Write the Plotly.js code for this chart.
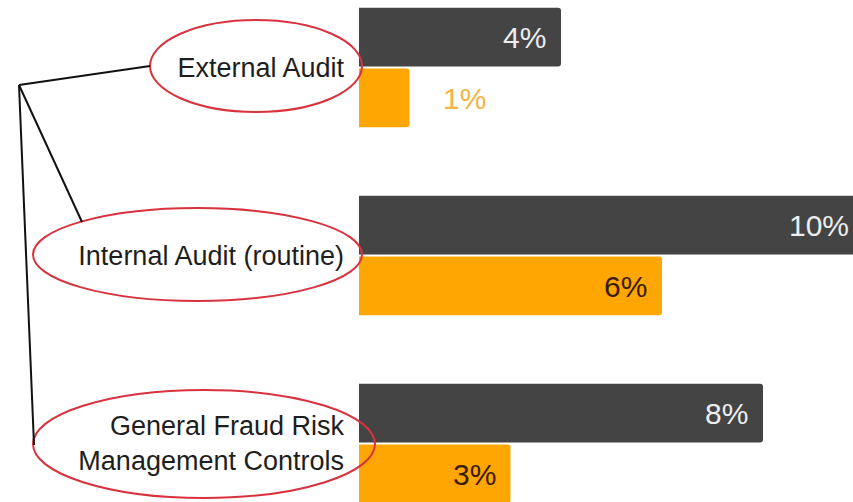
<!DOCTYPE html>
<html><head><meta charset="utf-8">
<script src="https://cdn.plot.ly/plotly-3.0.1.min.js"></script>
<style>html,body{margin:0;padding:0;overflow:hidden;background:#fff;width:853px;height:502px}#chart{width:880px;height:520px}</style>
</head><body><div id="chart"></div><script>
// ---- data ----
const categories = ["External Audit", "Internal Audit (routine)", "General Fraud Risk<br>Management Controls"];
const seriesDark = [4, 10, 8];
const seriesOrange = [1, 6, 3];
const valueSuffix = "%";

// ---- layout constants (styling) ----
const W = 880, H = 520, L = 359;
const PXPER = 50.5, ROW = 188, FIRST = 67.5;
const HALF = 30.5;
const FONT = "Liberation Sans, Arial, Helvetica, sans-serif";
const DARK = "#444444", ORANGE = "#FFA602";

const px = x => (x - L) / (W - L);
const py = y => 1 - y / H;

const traces = [
  {type: "bar", orientation: "h", y: categories, x: seriesDark, name: "A",
   marker: {color: DARK}, hoverinfo: "skip", showlegend: false},
  {type: "bar", orientation: "h", y: categories, x: seriesOrange, name: "B",
   marker: {color: ORANGE}, hoverinfo: "skip", showlegend: false}
];

const annotations = [];
categories.forEach((c, i) => {
  annotations.push({x: seriesDark[i], y: c, xref: "x", yref: "y", text: seriesDark[i] + valueSuffix,
    showarrow: false, xanchor: "right", yanchor: "middle", xshift: -13, yshift: HALF,
    font: {family: FONT, size: 30, color: "#ededed"}});
  const v = seriesOrange[i];
  const outside = v < 2;
  annotations.push({x: v, y: c, xref: "x", yref: "y", text: v + valueSuffix,
    showarrow: false, xanchor: outside ? "left" : "right", yanchor: "middle",
    xshift: outside ? 31 : -13, yshift: -HALF,
    font: {family: FONT, size: 30, color: outside ? "#F6B443" : "#3a1c00"}});
});

const lineStyle = {color: "#111111", width: 2};
const redStyle = {color: "#d8323e", width: 2};
const shapes = [
  {type: "circle", xref: "paper", yref: "paper", x0: px(150), x1: px(362), y0: py(112), y1: py(20), line: redStyle, layer: "above"},
  {type: "circle", xref: "paper", yref: "paper", x0: px(33), x1: px(362), y0: py(301), y1: py(208), line: redStyle, layer: "above"},
  {type: "circle", xref: "paper", yref: "paper", x0: px(33), x1: px(375), y0: py(498), y1: py(390), line: redStyle, layer: "above"},
  {type: "line", xref: "paper", yref: "paper", x0: px(19), y0: py(85), x1: px(150), y1: py(66), line: lineStyle},
  {type: "line", xref: "paper", yref: "paper", x0: px(19), y0: py(85), x1: px(82), y1: py(222), line: lineStyle},
  {type: "line", xref: "paper", yref: "paper", x0: px(19), y0: py(85), x1: px(34), y1: py(445), line: lineStyle}
];

const layout = {
  width: W, height: H,
  margin: {l: L, r: 0, t: 0, b: 0, pad: 0},
  paper_bgcolor: "#ffffff", plot_bgcolor: "#ffffff",
  barmode: "group", bargap: 0.356, bargroupgap: 0.03, barcornerradius: 3,
  showlegend: false,
  xaxis: {range: [0, (W - L) / PXPER], showgrid: false, zeroline: false, showline: false,
          showticklabels: false, ticks: "", fixedrange: true},
  yaxis: {type: "category", range: [(H - FIRST) / ROW, -FIRST / ROW], showgrid: false, zeroline: false,
          showline: false, ticks: "", ticklabelstandoff: 14, automargin: false,
          tickfont: {family: FONT, size: 27, color: "#1e1e1e"}, fixedrange: true},
  annotations: annotations,
  shapes: shapes,
  font: {family: FONT}
};

Plotly.newPlot("chart", traces, layout, {staticPlot: true, displayModeBar: false});
</script></body></html>
